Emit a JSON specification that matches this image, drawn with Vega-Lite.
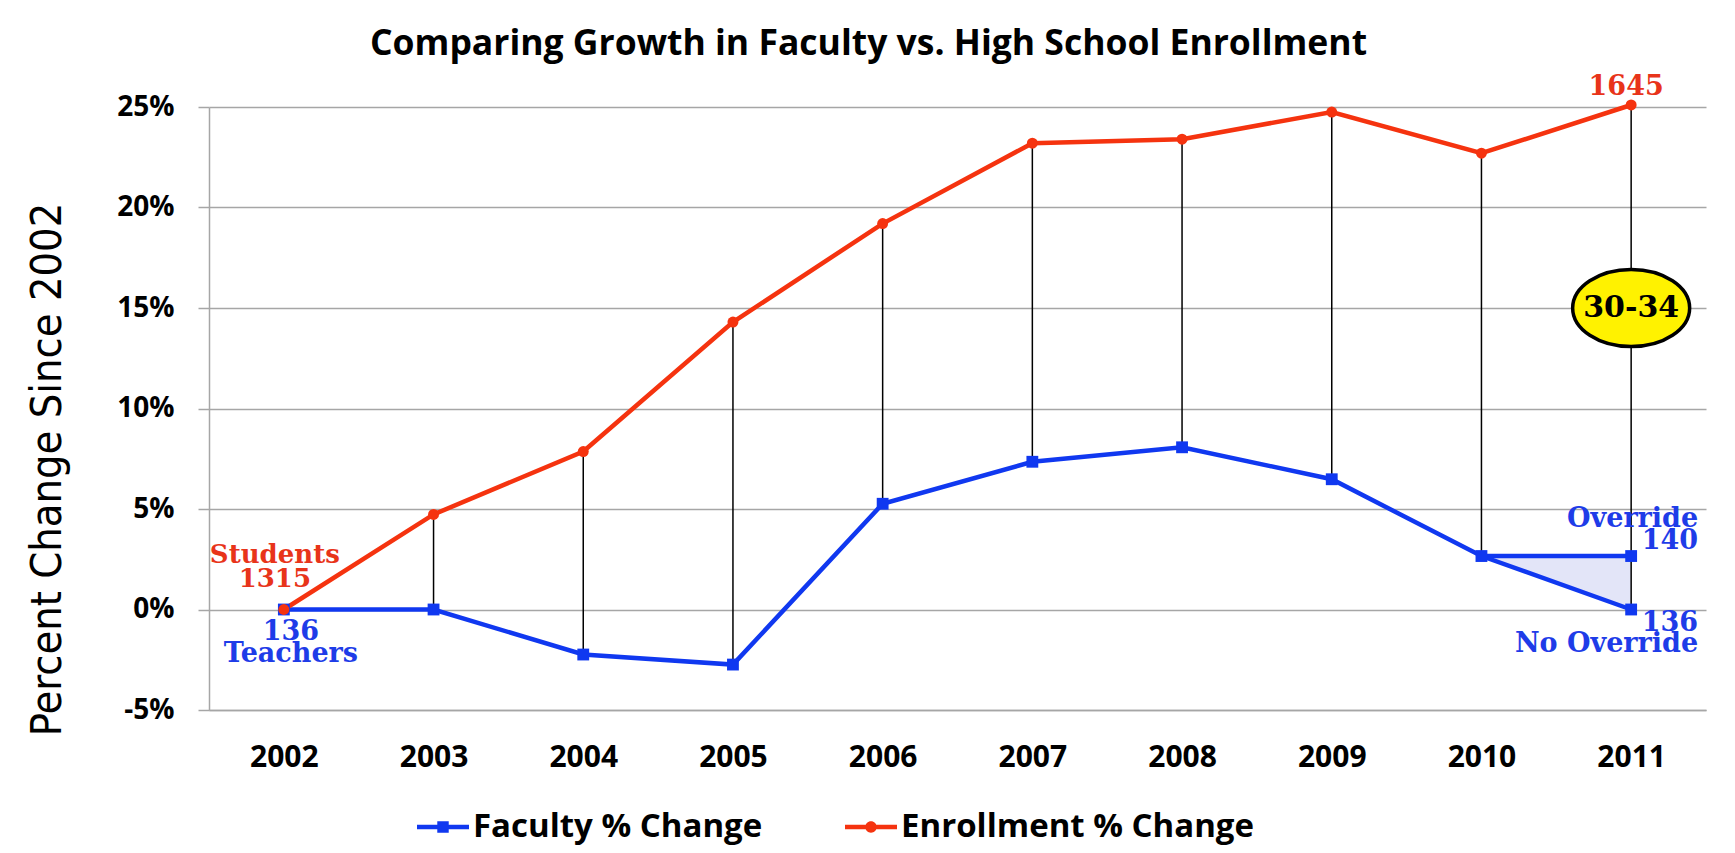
{
  "$schema": "https://vega.github.io/schema/vega-lite/v6.json",
  "width": 1497,
  "height": 603,
  "autosize": {"type": "none"},
  "padding": {"left": 209, "top": 107, "right": 29, "bottom": 143},
  "background": "white",
  "config": {"view": {"stroke": null}, "font": "Open Sans"},
  "title": {
    "text": "Comparing Growth in Faculty vs. High School Enrollment",
    "font": "Open Sans",
    "fontSize": 35.5,
    "fontWeight": "bold",
    "color": "black",
    "anchor": "middle",
    "frame": "group",
    "baseline": "alphabetic",
    "dx": -89,
    "offset": 30,
    "dy": 48
  },
  "datasets": {
    "growth": [
      {"year": "2002", "faculty": 0, "enrollment": 0},
      {"year": "2003", "faculty": 0, "enrollment": 4.73},
      {"year": "2004", "faculty": -2.24, "enrollment": 7.86},
      {"year": "2005", "faculty": -2.74, "enrollment": 14.3},
      {"year": "2006", "faculty": 5.26, "enrollment": 19.2},
      {"year": "2007", "faculty": 7.35, "enrollment": 23.2},
      {"year": "2008", "faculty": 8.07, "enrollment": 23.4},
      {"year": "2009", "faculty": 6.48, "enrollment": 24.75},
      {"year": "2010", "faculty": 2.66, "enrollment": 22.7},
      {"year": "2011", "faculty": 0, "enrollment": 25.1}
    ],
    "override": [
      {"year": "2010", "top": 2.66, "bottom": 2.66},
      {"year": "2011", "top": 2.66, "bottom": 0}
    ],
    "badge": [{"year": "2011", "value": 15, "label": "30-34"}],
    "students": [{"year": "2002", "value": 0, "lines": ["Students", "1315"]}],
    "teachers": [{"year": "2002", "value": 0, "lines": ["136", "Teachers"]}],
    "top": [{"year": "2011", "value": 25.1, "lines": "1645"}],
    "over": [{"year": "2011", "value": 2.66, "lines": ["Override", "140"]}],
    "noover": [{"year": "2011", "value": 0, "lines": ["136", "No Override"]}]
  },
  "encoding": {
    "x": {
      "field": "year",
      "type": "ordinal",
      "scale": {"type": "point", "padding": 0.5},
      "axis": {
        "title": null,
        "labelAngle": 0,
        "ticks": false,
        "grid": false,
        "labelFont": "Open Sans",
        "labelFontSize": 30,
        "labelFontWeight": "bold",
        "labelColor": "black",
        "labelPadding": 32,
        "domainColor": "#A6A6A6",
        "domainWidth": 1.5
      }
    }
  },
  "layer": [
    {
      "data": {"name": "override"},
      "mark": {"type": "area", "fill": "#E3E5F8", "opacity": 1},
      "encoding": {
        "y": {
          "field": "top",
          "type": "quantitative",
          "title": "Percent Change Since 2002",
          "scale": {"domain": [-5, 25], "nice": false, "zero": false},
          "axis": {
            "title": "Percent Change Since 2002",
            "values": [-5, 0, 5, 10, 15, 20, 25],
            "labelExpr": "datum.value + '%'",
            "labelFont": "Open Sans",
            "labelFontSize": 28,
            "labelFontWeight": "bold",
            "labelColor": "black",
            "labelPadding": 24,
            "tickSize": 11,
            "tickColor": "#A6A6A6",
            "tickWidth": 1.5,
            "domainColor": "#A6A6A6",
            "domainWidth": 1.5,
            "grid": true,
            "gridColor": "#A6A6A6",
            "gridWidth": 1.5,
            "titleFont": "Liberation Sans Narrow, DejaVu Sans Condensed, sans-serif",
            "titleFontSize": 43,
            "titleFontWeight": "normal",
            "titleColor": "black",
            "titleAngle": 270,
            "titleX": -162,
            "titleY": 362,
            "titleAlign": "center",
            "titleBaseline": "middle"
          }
        },
        "y2": {"field": "bottom"}
      }
    },
    {
      "data": {"name": "growth"},
      "mark": {"type": "rule", "color": "black", "strokeWidth": 1.5},
      "encoding": {
        "y": {"field": "faculty", "type": "quantitative", "title": "Percent Change Since 2002"},
        "y2": {"field": "enrollment"}
      }
    },
    {
      "data": {"name": "override"},
      "mark": {"type": "line", "color": "#1038F0", "strokeWidth": 4.5},
      "encoding": {
        "y": {"field": "top", "type": "quantitative", "title": "Percent Change Since 2002"}
      }
    },
    {
      "data": {"name": "growth"},
      "transform": [{"fold": ["faculty", "enrollment"], "as": ["series", "value"]}],
      "mark": {"type": "line", "strokeWidth": 4.5},
      "encoding": {
        "y": {"field": "value", "type": "quantitative", "title": "Percent Change Since 2002"},
        "color": {
          "field": "series",
          "type": "nominal",
          "scale": {"domain": ["faculty", "enrollment"], "range": ["#1038F0", "#F5330F"]},
          "legend": {
            "orient": "none",
            "legendX": 208,
            "legendY": 694,
            "direction": "horizontal",
            "title": null,
            "labelExpr": "datum.value == 'faculty' ? 'Faculty % Change' : 'Enrollment % Change'",
            "labelFont": "Open Sans",
            "labelFontSize": 33,
            "labelFontWeight": "bold",
            "labelColor": "black",
            "labelLimit": 0,
            "labelOffset": 4,
            "columnPadding": 82,
            "symbolSize": 2704,
            "encode": {
              "symbols": {
                "update": {
                  "shape": {"signal": "datum.value == 'faculty' ? 'M-1,-0.09L1,-0.09L1,0.09L-1,0.09Z M-0.22,-0.22L0.22,-0.22L0.22,0.22L-0.22,0.22Z' : 'M-1,-0.09L1,-0.09L1,0.09L-1,0.09Z M0.22,0A0.22,0.22 0 1,1 -0.22,0A0.22,0.22 0 1,1 0.22,0Z'"},
                  "fill": {"signal": "datum.value == 'faculty' ? '#1038F0' : '#F5330F'"},
                  "stroke": {"value": "transparent"},
                  "strokeWidth": {"value": 0},
                  "opacity": {"value": 1}
                }
              }
            }
          }
        }
      }
    },
    {
      "data": {"name": "growth"},
      "mark": {"type": "point", "filled": true, "shape": "square", "size": 140, "color": "#1038F0", "opacity": 1},
      "encoding": {
        "y": {"field": "faculty", "type": "quantitative", "title": "Percent Change Since 2002"}
      }
    },
    {
      "data": {"name": "growth"},
      "mark": {"type": "point", "filled": true, "shape": "circle", "size": 120, "color": "#F5330F", "opacity": 1},
      "encoding": {
        "y": {"field": "enrollment", "type": "quantitative", "title": "Percent Change Since 2002"}
      }
    },
    {
      "data": {"name": "override"},
      "transform": [{"filter": "datum.year == '2011'"}],
      "mark": {"type": "point", "filled": true, "shape": "square", "size": 140, "color": "#1038F0", "opacity": 1},
      "encoding": {
        "y": {"field": "top", "type": "quantitative", "title": "Percent Change Since 2002"}
      }
    },
    {
      "data": {"name": "badge"},
      "mark": {
        "type": "point",
        "shape": "M-1,0A1,0.66 0 1,1 1,0A1,0.66 0 1,1 -1,0Z",
        "size": 13689,
        "filled": true,
        "fill": "#FFF200",
        "stroke": "black",
        "strokeWidth": 3.5,
        "opacity": 1
      },
      "encoding": {
        "y": {"field": "value", "type": "quantitative", "title": "Percent Change Since 2002"}
      }
    },
    {
      "data": {"name": "badge"},
      "mark": {"type": "text", "font": "DejaVu Serif", "fontWeight": "bold", "fontSize": 30, "color": "black", "baseline": "middle", "align": "center"},
      "encoding": {
        "y": {"field": "value", "type": "quantitative", "title": "Percent Change Since 2002"},
        "text": {"field": "label"}
      }
    },
    {
      "data": {"name": "students"},
      "mark": {"type": "text", "font": "DejaVu Serif", "fontWeight": "bold", "fontSize": 26, "color": "#E8341A", "baseline": "top", "align": "center", "lineHeight": 24, "dx": -9, "dy": -68},
      "encoding": {
        "y": {"field": "value", "type": "quantitative", "title": "Percent Change Since 2002"},
        "text": {"field": "lines"}
      }
    },
    {
      "data": {"name": "top"},
      "mark": {"type": "text", "font": "DejaVu Serif", "fontWeight": "bold", "fontSize": 27, "color": "#E8341A", "baseline": "top", "align": "center", "dx": -5, "dy": -31},
      "encoding": {
        "y": {"field": "value", "type": "quantitative", "title": "Percent Change Since 2002"},
        "text": {"field": "lines"}
      }
    },
    {
      "data": {"name": "teachers"},
      "mark": {"type": "text", "font": "DejaVu Serif", "fontWeight": "bold", "fontSize": 27, "color": "#1E3CE8", "baseline": "top", "align": "center", "lineHeight": 22, "dx": 7, "dy": 9},
      "encoding": {
        "y": {"field": "value", "type": "quantitative", "title": "Percent Change Since 2002"},
        "text": {"field": "lines"}
      }
    },
    {
      "data": {"name": "over"},
      "mark": {"type": "text", "font": "DejaVu Serif", "fontWeight": "bold", "fontSize": 27, "color": "#1E3CE8", "baseline": "top", "align": "right", "lineHeight": 22, "dx": 67, "dy": -50},
      "encoding": {
        "y": {"field": "value", "type": "quantitative", "title": "Percent Change Since 2002"},
        "text": {"field": "lines"}
      }
    },
    {
      "data": {"name": "noover"},
      "mark": {"type": "text", "font": "DejaVu Serif", "fontWeight": "bold", "fontSize": 27, "color": "#1E3CE8", "baseline": "top", "align": "right", "lineHeight": 21, "dx": 67, "dy": 0},
      "encoding": {
        "y": {"field": "value", "type": "quantitative", "title": "Percent Change Since 2002"},
        "text": {"field": "lines"}
      }
    }
  ]
}
